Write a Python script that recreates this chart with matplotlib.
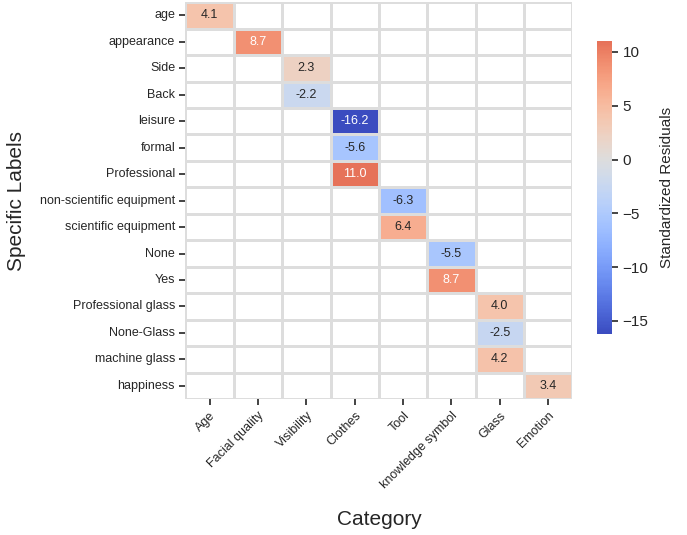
import numpy as np
import pandas as pd
import matplotlib
matplotlib.use("Agg")
import matplotlib.pyplot as plt
import seaborn as sns

categories = ["Age", "Facial quality", "Visibility", "Clothes", "Tool",
              "knowledge symbol", "Glass", "Emotion"]
labels = ["age", "appearance", "Side", "Back", "leisure", "formal", "Professional",
          "non-scientific equipment", "scientific equipment", "None", "Yes",
          "Professional glass", "None-Glass", "machine glass", "happiness"]
label_category = ["Age", "Facial quality", "Visibility", "Visibility", "Clothes",
                  "Clothes", "Clothes", "Tool", "Tool", "knowledge symbol",
                  "knowledge symbol", "Glass", "Glass", "Glass", "Emotion"]
residuals = [4.1, 8.7, 2.3, -2.2, -16.2, -5.6, 11.0, -6.3, 6.4, -5.5, 8.7,
             4.0, -2.5, 4.2, 3.4]

df = pd.DataFrame(np.nan, index=labels, columns=categories)
for lab, cat, v in zip(labels, label_category, residuals):
    df.loc[lab, cat] = v

sns.set_style("ticks")
plt.rcParams['font.family'] = ['Liberation Sans', 'DejaVu Sans']

fig = plt.figure(figsize=(6.87, 5.35), dpi=100)
ax = fig.add_axes([0.270, 0.254, 0.563, 0.742])
cax = fig.add_axes([0.869, 0.376, 0.022, 0.547])

sns.heatmap(df, ax=ax, cbar_ax=cax, cmap="coolwarm", center=0,
            annot=False, linewidths=1, linecolor="#dddddd",
            cbar_kws={"label": "Standardized Residuals"})

# annotations
for lab, cat, v in zip(labels, label_category, residuals):
    r = labels.index(lab)
    c = categories.index(cat)
    col = "white" if abs(v) >= 8 else "#262626"
    ax.text(c + 0.5, r + 0.5, f"{v:.1f}", ha="center", va="center",
            fontsize=9, color=col)

# grid lines for empty cells
nr, nc = df.shape
for i in range(nr + 1):
    ax.axhline(i, color="#dddddd", lw=1.3, zorder=0.5)
for j in range(nc + 1):
    ax.axvline(j, color="#dddddd", lw=1.3, zorder=0.5)
ax.set_xlim(0, nc)
ax.set_ylim(nr, 0)

ax.set_xticklabels(categories, rotation=45, ha="right", rotation_mode="anchor", fontsize=9)
ax.set_yticklabels(labels, rotation=0, fontsize=9)
ax.tick_params(axis="both", length=4, width=1.2, color="#222222")
ax.set_xlabel("Category", fontsize=15, labelpad=14)
ax.set_ylabel("Specific Labels", fontsize=15, labelpad=10)

cax.tick_params(labelsize=11, length=4, width=1.2)
cax.set_ylabel("Standardized Residuals", fontsize=11, labelpad=8)

fig.savefig("out.png", dpi=100)
